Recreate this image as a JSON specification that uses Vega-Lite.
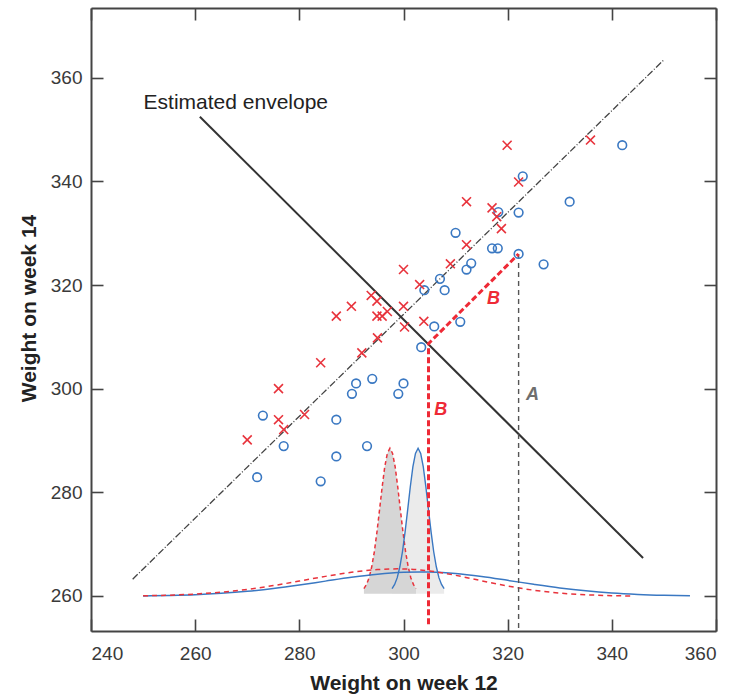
{
  "$schema": "https://vega.github.io/schema/vega-lite/v6.json",
  "width": 625,
  "height": 623,
  "autosize": {"type": "none"},
  "padding": {"left": 91, "top": 8, "right": 17, "bottom": 65},
  "background": "white",
  "config": {
    "font": "Liberation Sans",
    "view": {"stroke": null},
    "axis": {
      "grid": false,
      "domainColor": "#444444",
      "domainWidth": 2,
      "tickColor": "#444444",
      "tickWidth": 1.6,
      "tickSize": -12,
      "labelFont": "Liberation Sans",
      "labelFontSize": 19,
      "labelColor": "#3a3a3a",
      "titleFont": "Liberation Sans",
      "titleFontSize": 21,
      "titleFontWeight": "bold",
      "titleColor": "#222222"
    }
  },
  "datasets": {
    "points": [
      {"x": 270.0, "y": 290.1, "g": "R"}, {"x": 276.0, "y": 300.0, "g": "R"}, {"x": 276.0, "y": 294.0, "g": "R"},
      {"x": 277.0, "y": 292.1, "g": "R"}, {"x": 281.0, "y": 295.0, "g": "R"}, {"x": 284.1, "y": 305.0, "g": "R"},
      {"x": 287.1, "y": 314.0, "g": "R"}, {"x": 290.0, "y": 315.9, "g": "R"}, {"x": 292.0, "y": 306.9, "g": "R"},
      {"x": 293.8, "y": 318.0, "g": "R"}, {"x": 294.9, "y": 316.9, "g": "R"}, {"x": 294.9, "y": 314.0, "g": "R"},
      {"x": 295.9, "y": 314.0, "g": "R"}, {"x": 296.9, "y": 314.9, "g": "R"}, {"x": 295.0, "y": 309.8, "g": "R"},
      {"x": 300.0, "y": 323.0, "g": "R"}, {"x": 300.0, "y": 315.9, "g": "R"}, {"x": 300.2, "y": 311.9, "g": "R"},
      {"x": 303.1, "y": 320.1, "g": "R"}, {"x": 303.9, "y": 313.0, "g": "R"}, {"x": 309.0, "y": 324.1, "g": "R"},
      {"x": 312.1, "y": 336.1, "g": "R"}, {"x": 312.1, "y": 327.8, "g": "R"}, {"x": 317.0, "y": 334.9, "g": "R"},
      {"x": 317.9, "y": 333.2, "g": "R"}, {"x": 318.8, "y": 330.9, "g": "R"}, {"x": 319.9, "y": 347.0, "g": "R"},
      {"x": 322.1, "y": 339.9, "g": "R"}, {"x": 335.9, "y": 348.0, "g": "R"},
      {"x": 273.0, "y": 294.8, "g": "B"}, {"x": 277.0, "y": 288.9, "g": "B"}, {"x": 271.9, "y": 282.9, "g": "B"},
      {"x": 284.1, "y": 282.1, "g": "B"}, {"x": 287.1, "y": 294.0, "g": "B"}, {"x": 287.1, "y": 286.9, "g": "B"},
      {"x": 293.0, "y": 288.9, "g": "B"}, {"x": 290.1, "y": 299.0, "g": "B"}, {"x": 290.9, "y": 301.0, "g": "B"},
      {"x": 294.0, "y": 301.9, "g": "B"}, {"x": 299.0, "y": 299.0, "g": "B"}, {"x": 300.0, "y": 301.0, "g": "B"},
      {"x": 303.4, "y": 308.0, "g": "B"}, {"x": 305.9, "y": 312.0, "g": "B"}, {"x": 310.9, "y": 312.9, "g": "B"},
      {"x": 304.0, "y": 319.0, "g": "B"}, {"x": 307.9, "y": 319.0, "g": "B"}, {"x": 307.0, "y": 321.2, "g": "B"},
      {"x": 312.1, "y": 323.0, "g": "B"}, {"x": 313.0, "y": 324.2, "g": "B"}, {"x": 310.0, "y": 330.1, "g": "B"},
      {"x": 317.0, "y": 327.1, "g": "B"}, {"x": 318.1, "y": 327.1, "g": "B"}, {"x": 322.1, "y": 326.0, "g": "B"},
      {"x": 326.9, "y": 324.0, "g": "B"}, {"x": 318.2, "y": 334.1, "g": "B"}, {"x": 322.1, "y": 334.0, "g": "B"},
      {"x": 322.9, "y": 341.0, "g": "B"}, {"x": 331.9, "y": 336.1, "g": "B"}, {"x": 342.0, "y": 347.0, "g": "B"}
    ],
    "diag": [{"x": 248.0, "y": 263.2}, {"x": 349.9, "y": 363.4}],
    "envelope": [{"x": 260.9, "y": 352.5}, {"x": 346.0, "y": 267.3}],
    "lineA": [{"x": 322.1, "y": 326.0, "i": 0}, {"x": 322.1, "y": 253.2, "i": 1}],
    "lineB": [{"x": 304.8, "y": 254.5, "i": 0}, {"x": 304.8, "y": 308.7, "i": 1}, {"x": 322.1, "y": 326.0, "i": 2}],
    "wideBlue": [
      {"x": 250, "y": 259.98}, {"x": 255, "y": 260.06}, {"x": 260, "y": 260.2}, {"x": 265, "y": 260.47},
      {"x": 270, "y": 260.86}, {"x": 275, "y": 261.4}, {"x": 280, "y": 262.07}, {"x": 285, "y": 262.83},
      {"x": 290, "y": 263.57}, {"x": 295, "y": 264.18}, {"x": 300, "y": 264.54}, {"x": 303, "y": 264.6},
      {"x": 305, "y": 264.57}, {"x": 310, "y": 264.28}, {"x": 315, "y": 263.71}, {"x": 320, "y": 262.98},
      {"x": 325, "y": 262.22}, {"x": 330, "y": 261.52}, {"x": 335, "y": 260.95}, {"x": 340, "y": 260.53},
      {"x": 345, "y": 260.26}, {"x": 350, "y": 260.09}, {"x": 355, "y": 259.99}
    ],
    "wideRed": [
      {"x": 250, "y": 260.0}, {"x": 255, "y": 260.12}, {"x": 260, "y": 260.34}, {"x": 265, "y": 260.7},
      {"x": 270, "y": 261.24}, {"x": 275, "y": 261.97}, {"x": 280, "y": 262.84}, {"x": 285, "y": 263.75},
      {"x": 290, "y": 264.54}, {"x": 295, "y": 265.06}, {"x": 299, "y": 265.2}, {"x": 300, "y": 265.19},
      {"x": 305, "y": 264.79}, {"x": 310, "y": 263.95}, {"x": 315, "y": 262.9}, {"x": 320, "y": 261.89},
      {"x": 325, "y": 261.08}, {"x": 330, "y": 260.53}, {"x": 335, "y": 260.2}, {"x": 340, "y": 260.03},
      {"x": 344, "y": 259.95}
    ],
    "narrowRed": [
      {"x": 292.4, "y": 261.4}, {"x": 292.9, "y": 262.2}, {"x": 293.4, "y": 263.5}, {"x": 293.9, "y": 265.6},
      {"x": 294.4, "y": 268.5}, {"x": 294.9, "y": 272.3}, {"x": 295.4, "y": 276.6}, {"x": 295.9, "y": 281.0},
      {"x": 296.4, "y": 284.9}, {"x": 296.9, "y": 287.5}, {"x": 297.4, "y": 288.5}, {"x": 297.9, "y": 287.5},
      {"x": 298.4, "y": 284.9}, {"x": 298.9, "y": 281.0}, {"x": 299.4, "y": 276.6}, {"x": 299.9, "y": 272.3},
      {"x": 300.4, "y": 268.5}, {"x": 300.9, "y": 265.6}, {"x": 301.4, "y": 263.5}, {"x": 301.9, "y": 262.2},
      {"x": 302.4, "y": 261.4}
    ],
    "narrowBlue": [
      {"x": 297.8, "y": 261.4}, {"x": 298.3, "y": 262.2}, {"x": 298.8, "y": 263.5}, {"x": 299.3, "y": 265.6},
      {"x": 299.8, "y": 268.5}, {"x": 300.3, "y": 272.3}, {"x": 300.8, "y": 276.6}, {"x": 301.3, "y": 281.0},
      {"x": 301.8, "y": 284.9}, {"x": 302.3, "y": 287.5}, {"x": 302.8, "y": 288.5}, {"x": 303.3, "y": 287.5},
      {"x": 303.8, "y": 284.9}, {"x": 304.3, "y": 281.0}, {"x": 304.8, "y": 276.6}, {"x": 305.3, "y": 272.3},
      {"x": 305.8, "y": 268.5}, {"x": 306.3, "y": 265.6}, {"x": 306.8, "y": 263.5}, {"x": 307.3, "y": 262.2},
      {"x": 307.8, "y": 261.4}
    ],
    "labels": [
      {"x": 250.1, "y": 354.05, "t": "Estimated envelope", "k": "E"},
      {"x": 323.5, "y": 297.85, "t": "A", "k": "A"},
      {"x": 305.9, "y": 294.9, "t": "B", "k": "B"},
      {"x": 316.05, "y": 316.35, "t": "B", "k": "B"}
    ]
  },
  "resolve": {"axis": {"x": "independent", "y": "independent"}},
  "layer": [
    {
      "encoding": {
        "x": {"field": "x", "type": "quantitative", "scale": {"domain": [240, 360], "nice": false, "zero": false},
          "axis": {"values": [240, 260, 280, 300, 320, 340, 360], "title": "Weight on week 12", "labelPadding": 25, "titlePadding": 9}},
        "y": {"field": "y", "type": "quantitative", "scale": {"domain": [253.2, 373.5], "nice": false, "zero": false},
          "axis": {"values": [260, 280, 300, 320, 340, 360], "title": "Weight on week 14", "labelPadding": 21, "titlePadding": 11, "titleY": 300}}
      },
      "layer": [
        {"data": {"name": "narrowBlue"}, "mark": {"type": "area", "color": "#ebebeb"}, "encoding": {"y2": {"datum": 260.4}}},
        {"data": {"name": "narrowRed"}, "mark": {"type": "area", "color": "#d6d6d6"}, "encoding": {"y2": {"datum": 260.4}}},
        {"data": {"name": "narrowRed"}, "mark": {"type": "line", "color": "#e8333c", "strokeWidth": 1.5, "strokeDash": [4, 3]}, "encoding": {}},
        {"data": {"name": "narrowBlue"}, "mark": {"type": "line", "color": "#3a78c2", "strokeWidth": 1.4}, "encoding": {}},
        {"data": {"name": "wideBlue"}, "mark": {"type": "line", "color": "#3a78c2", "strokeWidth": 1.5, "interpolate": "monotone"}, "encoding": {}},
        {"data": {"name": "wideRed"}, "mark": {"type": "line", "color": "#e8333c", "strokeWidth": 1.5, "strokeDash": [5, 4], "interpolate": "monotone"}, "encoding": {}},
        {"data": {"name": "diag"}, "mark": {"type": "line", "color": "#444444", "strokeWidth": 1.3, "strokeDash": [7, 2, 1, 2]}, "encoding": {}},
        {"data": {"name": "envelope"}, "mark": {"type": "line", "color": "#333333", "strokeWidth": 2}, "encoding": {}},
        {"data": {"name": "lineA"}, "mark": {"type": "line", "color": "#555555", "strokeWidth": 1.4, "strokeDash": [5, 4]}, "encoding": {"order": {"field": "i"}}},
        {"data": {"name": "lineB"}, "mark": {"type": "line", "color": "#ee2a36", "strokeWidth": 3, "strokeDash": [6, 3]}, "encoding": {"order": {"field": "i"}}},
        {"data": {"name": "points"}, "transform": [{"filter": "datum.g == 'B'"}],
          "mark": {"type": "point", "shape": "circle", "filled": false, "color": "#3a78c2", "strokeWidth": 1.6, "size": 75, "opacity": 1}},
        {"data": {"name": "points"}, "transform": [{"filter": "datum.g == 'R'"}],
          "mark": {"type": "point", "shape": "M-1,-1L1,1M-1,1L1,-1", "filled": false, "color": "#e8333c", "strokeWidth": 1.6, "size": 80, "opacity": 1}},
        {"data": {"name": "labels"}, "transform": [{"filter": "datum.k == 'E'"}],
          "mark": {"type": "text", "align": "left", "baseline": "alphabetic", "fontSize": 21, "color": "#222222"},
          "encoding": {"text": {"field": "t"}}},
        {"data": {"name": "labels"}, "transform": [{"filter": "datum.k == 'A'"}],
          "mark": {"type": "text", "align": "left", "baseline": "alphabetic", "fontSize": 18, "fontStyle": "italic", "fontWeight": "bold", "color": "#6e6e6e"},
          "encoding": {"text": {"field": "t"}}},
        {"data": {"name": "labels"}, "transform": [{"filter": "datum.k == 'B'"}],
          "mark": {"type": "text", "align": "left", "baseline": "alphabetic", "fontSize": 18, "fontStyle": "italic", "fontWeight": "bold", "color": "#ee2a36"},
          "encoding": {"text": {"field": "t"}}}
      ]
    },
    {
      "data": {"name": "diag"},
      "mark": {"type": "line", "opacity": 0},
      "encoding": {
        "x": {"field": "x", "type": "quantitative", "scale": {"domain": [240, 360], "nice": false, "zero": false},
          "axis": {"orient": "top", "values": [240, 260, 280, 300, 320, 340, 360], "labels": false, "title": null}},
        "y": {"field": "y", "type": "quantitative", "scale": {"domain": [253.2, 373.5], "nice": false, "zero": false},
          "axis": {"orient": "right", "values": [260, 280, 300, 320, 340, 360], "labels": false, "title": null}}
      }
    }
  ]
}
